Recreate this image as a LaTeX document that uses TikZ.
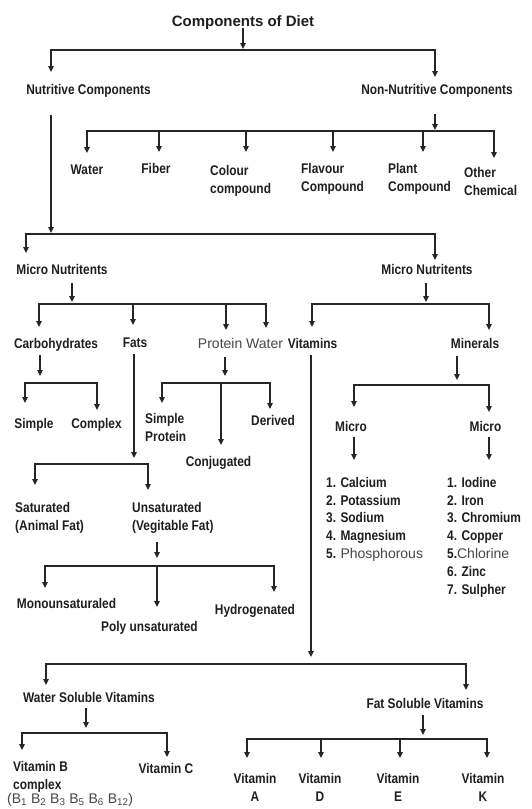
\documentclass[tikz,border=0pt]{standalone}
\usepackage{fontspec}
\setmainfont{Liberation Sans}
\newfontfamily\nrw[FakeStretch=0.85]{Liberation Sans}
\usetikzlibrary{arrows.meta}
\newcommand\rgtext[1]{{\normalfont\color{black!72}#1}}
\begin{document}
\begin{tikzpicture}[x=1pt,y=-1pt,
 lbl/.style={font=\nrw\bfseries\fontsize{14}{18}\selectfont,inner sep=0pt,text=black!88},
 reglbl/.style={font=\fontsize{14}{18}\selectfont,inner sep=0pt,text=black!72},
 conn/.style={line width=1.1pt,draw=black!85},
 arr/.style={conn,-{Triangle[width=5.5pt,length=6pt]}},
 arrb/.style={conn,{Triangle[width=5.5pt,length=6pt]}-{Triangle[width=5.5pt,length=6pt]}},
]
\fill[white] (0,0) rectangle (532,809);
\useasboundingbox (0,0) rectangle (532,809);

% ---------- nodes ----------
\node[lbl,font=\bfseries\fontsize{15}{18}\selectfont,anchor=north] (title) at (243,15) {Components of Diet};
\node[lbl,anchor=north] (nutr) at (88.5,84) {Nutritive Components};
\node[lbl,anchor=north] (nonnutr) at (437,84) {Non-Nutritive Components};

\node[lbl,anchor=north] (water) at (87,165) {Water};
\node[lbl,anchor=north] (fiber) at (156,163) {Fiber};
\node[lbl,anchor=north west,align=left] (colour) at (210,165) {Colour\\compound};
\node[lbl,anchor=north west,align=left] (flavour) at (301,163) {Flavour\\Compound};
\node[lbl,anchor=north west,align=left] (plant) at (388,163) {Plant\\Compound};
\node[lbl,anchor=north west,align=left] (other) at (464,167) {Other\\Chemical};

\node[lbl,anchor=north] (micro1) at (62,264) {Micro Nutritents};
\node[lbl,anchor=north] (micro2) at (427,264) {Micro Nutritents};

\node[lbl,anchor=north] (carbo) at (56,338) {Carbohydrates};
\node[lbl,anchor=north] (fats) at (135,338) {Fats};
\node[reglbl,anchor=north] (protwater) at (240.5,338) {Protein Water};
\node[lbl,anchor=north] (vitamins) at (312.5,338) {Vitamins};
\node[lbl,anchor=north] (minerals) at (475,338) {Minerals};

\node[lbl,anchor=north] (simple) at (34,418) {Simple};
\node[lbl,anchor=north] (complex) at (96.5,418) {Complex};
\node[lbl,anchor=north west,align=left] (simpleprot) at (145,413) {Simple\\Protein};
\node[lbl,anchor=north] (conj) at (218.5,456) {Conjugated};
\node[lbl,anchor=north] (derived) at (273,415) {Derived};

\node[lbl,anchor=north] (micro3) at (351,421) {Micro};
\node[lbl,anchor=north] (micro4) at (485.5,421) {Micro};

\node[lbl,anchor=north west,align=left,font=\nrw\bfseries\fontsize{14}{17.8}\selectfont] (list1) at (326,477)
 {1. Calcium\\2. Potassium\\3. Sodium\\4. Magnesium\\5. \rgtext{Phosphorous}};
\node[lbl,anchor=north west,align=left,font=\nrw\bfseries\fontsize{14}{17.8}\selectfont] (list2) at (447,477)
 {1. Iodine\\2. Iron\\3. Chromium\\4. Copper\\5.\rgtext{Chlorine}\\6. Zinc\\7. Sulpher};

\node[lbl,anchor=north west,align=left] (sat) at (15,502) {Saturated\\(Animal Fat)};
\node[lbl,anchor=north west,align=left] (unsat) at (132,502) {Unsaturated\\(Vegitable Fat)};

\node[lbl,anchor=north] (mono) at (66.5,598) {Monounsaturaled};
\node[lbl,anchor=north] (poly) at (149.5,621) {Poly unsaturated};
\node[lbl,anchor=north] (hydro) at (255,604) {Hydrogenated};

\node[lbl,anchor=north] (wsv) at (89,692) {Water Soluble Vitamins};
\node[lbl,anchor=north] (fsv) at (425,698) {Fat Soluble Vitamins};

\node[lbl,anchor=north west,align=left] (vitb) at (13,761) {Vitamin B\\complex};
\node[reglbl,anchor=north west] (vitbsub) at (7,793) {(B\textsubscript{1} B\textsubscript{2} B\textsubscript{3} B\textsubscript{5} B\textsubscript{6} B\textsubscript{12})};
\node[lbl,anchor=north] (vitc) at (166,763) {Vitamin C};

\node[lbl,anchor=north,align=center] (vita) at (255,773) {Vitamin\\A};
\node[lbl,anchor=north,align=center] (vitd) at (320,773) {Vitamin\\D};
\node[lbl,anchor=north,align=center] (vite) at (398,773) {Vitamin\\E};
\node[lbl,anchor=north,align=center] (vitk) at (483,773) {Vitamin\\K};

% ---------- connectors ----------
\draw[arr] (title.south |- 0,28) -- (title.south |- 0,49);
\draw[arrb] (51,72) |- (435,50) -- (435,77);

\draw[arr] (51,115) -- (51,233);
\draw[arr] (435,114) -- (435,130);
\draw[arrb] (87,153) |- (494,131) -- (494,158);
\foreach \x in {159,246,333,423} \draw[arr] (\x,131) -- (\x,152);

\draw[arrb] (26,253) |- (435,234) -- (435,260);

\draw[arr] (72,283) -- (72,302);
\draw[arrb] (39,327) |- (266,304) -- (266,328);
\draw[arr] (133,304) -- (133,325);
\draw[arr] (226,304) -- (226,330);

\draw[arr] (426,283) -- (426,302);
\draw[arrb] (312,327) |- (489,304) -- (489,330);

\draw[arr] (40,355) -- (40,376);
\draw[arrb] (25,403) |- (97,383) -- (97,410);

\draw[arr] (225,357) -- (225,376);
\draw[arrb] (162,403) |- (270,383) -- (270,409);
\draw[arr] (221,383) -- (221,445);

\draw[arr] (134,354) -- (134,458);
\draw[arrb] (35,485) |- (148,464) -- (148,490);

\draw[arr] (157,542) -- (157,558);
\draw[arrb] (45,588) |- (274,566) -- (274,592);
\draw[arr] (157,566) -- (157,607);

\draw[arr] (457,356) -- (457,380);
\draw[arrb] (354,407) |- (489,385) -- (489,412);
\draw[arr] (354,437) -- (354,460);
\draw[arr] (489,437) -- (489,460);

\draw[arr] (311,355) -- (311,657);
\draw[arrb] (46,685) |- (466,664) -- (466,690);

\draw[arr] (86,708) -- (86,728);
\draw[arrb] (22,750) |- (167,733) -- (167,757);

\draw[arr] (423,715) -- (423,735);
\draw[arrb] (247,758) |- (487,739) -- (487,758);
\draw[arr] (321,739) -- (321,758);
\draw[arr] (400,739) -- (400,758);
\end{tikzpicture}
\end{document}
